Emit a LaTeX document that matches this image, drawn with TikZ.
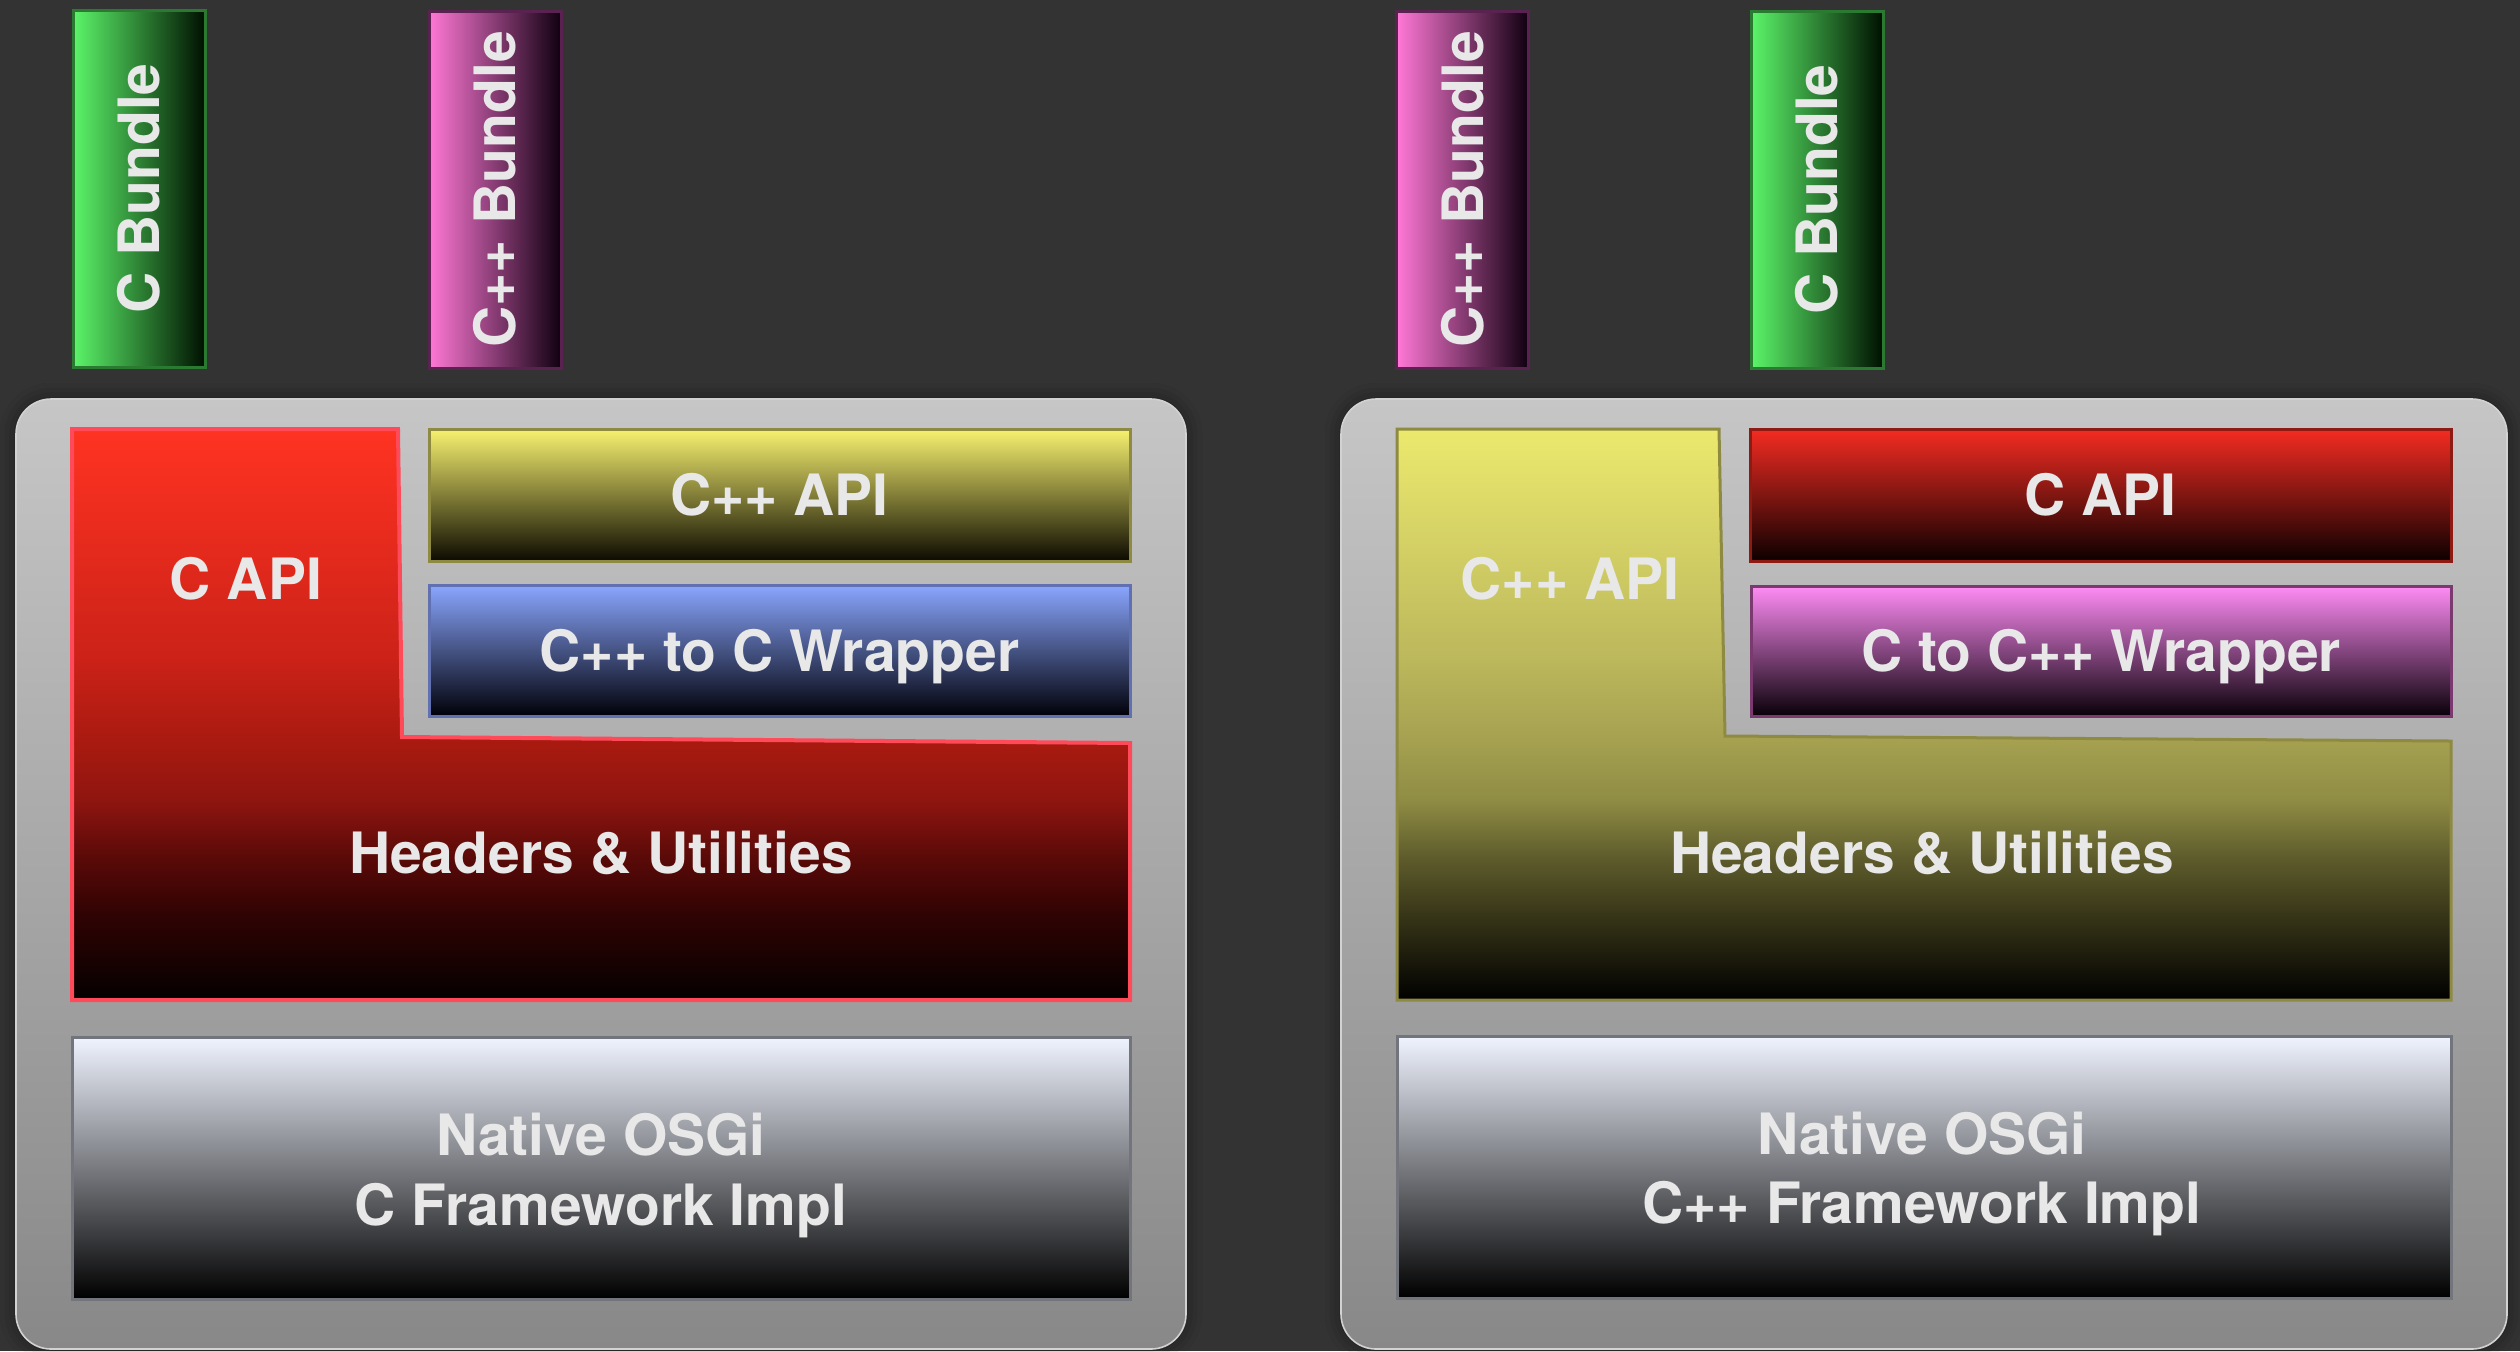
\documentclass[tikz,border=0pt]{standalone}
\usepackage{fontspec}
\setmainfont{TeX Gyre Heros}
\usetikzlibrary{shadows.blur}

\definecolor{bgdark}{HTML}{333333}
\definecolor{labeltext}{HTML}{E8E8E8}
\definecolor{paneltop}{HTML}{C6C6C6}
\definecolor{panelbot}{HTML}{888888}
\definecolor{panelrim}{HTML}{D2D2D2}
% bundles
\definecolor{grnrim}{HTML}{2A7A32}
\definecolor{grnA}{HTML}{5CF56A}
\definecolor{grnB}{HTML}{2E8C38}
\definecolor{grnC}{HTML}{001000}
\definecolor{pnkrim}{HTML}{5A2250}
\definecolor{pnkA}{HTML}{FF78D6}
\definecolor{pnkB}{HTML}{A04888}
\definecolor{pnkC}{HTML}{100010}
% layers
\definecolor{redrim}{HTML}{FF4A5A}
\definecolor{olvrim}{HTML}{8E8A42}
\definecolor{olvA}{HTML}{F8F270}
\definecolor{olvB}{HTML}{9A9448}
\definecolor{olvC}{HTML}{0C0A00}
\definecolor{blurim}{HTML}{6070B0}
\definecolor{bluA}{HTML}{8AA6FF}
\definecolor{bluB}{HTML}{56679E}
\definecolor{bluC}{HTML}{000008}
\definecolor{drdrim}{HTML}{8E1A14}
\definecolor{drdA}{HTML}{F42C22}
\definecolor{drdB}{HTML}{841210}
\definecolor{drdC}{HTML}{0C0000}
\definecolor{magrim}{HTML}{7A3A70}
\definecolor{magA}{HTML}{FF8CF5}
\definecolor{magB}{HTML}{9C5A8C}
\definecolor{magC}{HTML}{080008}
\definecolor{natrim}{HTML}{72757C}
\definecolor{natA}{HTML}{F0F4FF}
\definecolor{natB}{HTML}{A2A4AA}
\definecolor{natC}{HTML}{000000}

% tall L-shaped layers stay bright longer, then fall off to black
\pgfdeclareverticalshading{redlshade}{100bp}{%
  color(0bp)=(rgb,255:red,5;green,0;blue,0);
  color(25bp)=(rgb,255:red,5;green,0;blue,0);
  color(32.5bp)=(rgb,255:red,48;green,3;blue,3);
  color(37.5bp)=(rgb,255:red,90;green,10;blue,8);
  color(42.5bp)=(rgb,255:red,143;green,21;blue,16);
  color(47.5bp)=(rgb,255:red,168;green,26;blue,16);
  color(55bp)=(rgb,255:red,204;green,34;blue,24);
  color(75bp)=(rgb,255:red,255;green,51;blue,34);
  color(100bp)=(rgb,255:red,255;green,51;blue,34)}
\pgfdeclareverticalshading{olivelshade}{100bp}{%
  color(0bp)=(rgb,255:red,0;green,0;blue,0);
  color(25bp)=(rgb,255:red,0;green,0;blue,0);
  color(32.5bp)=(rgb,255:red,56;green,54;blue,24);
  color(37.5bp)=(rgb,255:red,94;green,92;blue,44);
  color(42.5bp)=(rgb,255:red,143;green,140;blue,68);
  color(47.5bp)=(rgb,255:red,164;green,160;blue,80);
  color(55bp)=(rgb,255:red,188;green,184;blue,92);
  color(75bp)=(rgb,255:red,236;green,233;blue,110);
  color(100bp)=(rgb,255:red,236;green,233;blue,110)}

\tikzset{
  lbl/.style={text=labeltext, font=\bfseries\fontsize{28.5}{34}\selectfont,
    inner sep=0pt, text height=20.5pt, text depth=0pt},
  panel/.style={draw=panelrim, line width=0.8pt, rounded corners=17.5pt,
    top color=paneltop, bottom color=panelbot,
    blur shadow={shadow xshift=0pt, shadow yshift=0pt, shadow blur radius=8pt,
      shadow opacity=45}},
  layer/.style={rectangle, line width=1.5pt, inner sep=0pt, line join=miter},
  bundlebox/.style={rectangle, line width=1.5pt, inner sep=0pt,
    minimum width=66pt, minimum height=178.5pt},
  greenbundle/.style={bundlebox, draw=grnrim, left color=grnA,
    middle color=grnB, right color=grnC},
  pinkbundle/.style={bundlebox, draw=pnkrim, left color=pnkA,
    middle color=pnkB, right color=pnkC},
  redfill/.style={layer, draw=redrim, line width=2pt, shade, shading=redlshade},
  olivelfill/.style={layer, draw=olvrim, shade, shading=olivelshade},
  olivefill/.style={layer, draw=olvrim,
    top color=olvA, middle color=olvB, bottom color=olvC},
  bluefill/.style={layer, draw=blurim,
    top color=bluA, middle color=bluB, bottom color=bluC},
  darkredfill/.style={layer, draw=drdrim,
    top color=drdA, middle color=drdB, bottom color=drdC},
  magentafill/.style={layer, draw=magrim,
    top color=magA, middle color=magB, bottom color=magC},
  nativefill/.style={layer, draw=natrim,
    top color=natA, middle color=natB, bottom color=natC},
}

\begin{document}
\begin{tikzpicture}[x=0.5pt, y=-0.5pt]
  % canvas
  \fill[bgdark] (0,0) rectangle (2520,1351);
  \useasboundingbox (0,0) rectangle (2520,1351);

  % ---------- bundles on top ----------
  \node[greenbundle] (lcb) at (139,188.5) {};
  \node[lbl, rotate=90] (lcbt) at (lcb) {C Bundle};
  \node[pinkbundle] (lpb) at (495,189.5) {};
  \node[lbl, rotate=90] (lpbt) at (lpb) {C++ Bundle};

  \node[pinkbundle] (rpb) at (1462.5,189.5) {};
  \node[lbl, rotate=90] (rpbt) at (rpb) {C++ Bundle};
  \node[greenbundle] (rcb) at (1817,189.5) {};
  \node[lbl, rotate=90] (rcbt) at (rcb) {C Bundle};

  % ---------- left stack: C framework ----------
  \path[panel] (16,399) rectangle (1186,1349);
  \path[redfill] (72,429) -- (398,429) -- (402,737) -- (1130,743)
    -- (1130,1000) -- (72,1000) -- cycle;
  \node[lbl] (lcapi) at (246,579) {C API};
  \node[lbl] (lhdr) at (601,853) {Headers \& Utilities};

  \node[olivefill, minimum width=350.5pt, minimum height=66pt] (lcpp) at (779.5,495) {};
  \node[lbl] (lcppt) at (lcpp) {C++ API};
  \node[bluefill, minimum width=350.5pt, minimum height=65.5pt] (lwrap) at (779.5,650.5) {};
  \node[lbl] (lwrapt) at (lwrap) {C++ to C Wrapper};

  \node[nativefill, minimum width=529pt, minimum height=131pt] (lnat) at (601,1168) {};
  \node[lbl] (lnat1) at (601,1135) {Native OSGi};
  \node[lbl] (lnat2) at (601,1205) {C Framework Impl};

  % ---------- right stack: C++ framework ----------
  \path[panel] (1341,399) rectangle (2507,1349);
  \path[olivelfill] (1397,429) -- (1719,429) -- (1725,736) -- (2451,741)
    -- (2451,1000) -- (1397,1000) -- cycle;
  \node[lbl] (rcppapi) at (1570,579) {C++ API};
  \node[lbl] (rhdr) at (1922,853) {Headers \& Utilities};

  \node[darkredfill, minimum width=350.5pt, minimum height=66pt] (rcapi) at (2100.5,495) {};
  \node[lbl] (rcapit) at (rcapi) {C API};
  \node[magentafill, minimum width=350pt, minimum height=65pt] (rwrap) at (2101,651) {};
  \node[lbl] (rwrapt) at (rwrap) {C to C++ Wrapper};

  \node[nativefill, minimum width=527pt, minimum height=131pt] (rnat) at (1924,1167) {};
  \node[lbl] (rnat1) at (1922,1133.5) {Native OSGi};
  \node[lbl] (rnat2) at (1922,1203) {C++ Framework Impl};
\end{tikzpicture}
\end{document}
